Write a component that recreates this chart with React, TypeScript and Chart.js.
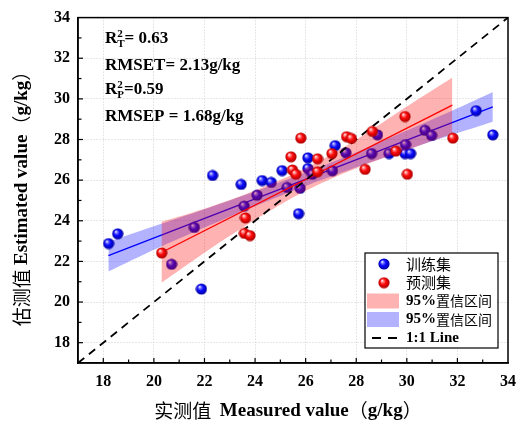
import React, { useEffect, useRef } from "react";
import { Chart, registerables } from "chart.js";

Chart.register(...registerables);

// ---- data ----
const trainX = [18.21, 18.57, 20.7, 21.88, 22.32, 21.6, 23.45, 23.57, 24.08, 24.28, 24.64, 25.07, 25.27, 25.72, 25.78, 26.09, 26.09, 26.27, 27.17, 27.06, 27.59, 28.84, 28.61, 29.3, 29.95, 29.93, 30.15, 30.72, 30.98, 32.74, 33.4];
const trainY = [22.88, 23.36, 21.86, 20.64, 26.23, 23.67, 25.79, 24.72, 25.26, 25.98, 25.89, 26.47, 25.64, 24.35, 25.6, 27.1, 26.57, 26.29, 27.7, 26.46, 27.35, 28.23, 27.31, 27.31, 27.75, 27.31, 27.31, 28.45, 28.2, 29.42, 28.23];

const testX = [20.31, 23.62, 23.58, 23.8, 25.42, 25.48, 25.61, 25.81, 26.47, 26.47, 27.04, 27.62, 27.81, 28.64, 28.35, 29.56, 30.02, 29.93, 31.82];
const testY = [22.42, 24.14, 23.38, 23.27, 27.15, 26.5, 26.29, 28.07, 27.05, 26.41, 27.31, 28.14, 28.05, 28.4, 26.53, 27.43, 26.29, 29.13, 28.07];

const trainFitX = [18.2, 33.4];
const trainFitY = [22.29, 29.61];
const testFitX = [20.3, 31.8];
const testFitY = [22.44, 29.69];

const trainBandX = [18.2, 20, 22, 24, 26, 28, 30, 32, 33.4];
const trainBandUpper = [22.97, 23.73, 24.57, 25.44, 26.37, 27.37, 28.44, 29.54, 30.34];
const trainBandLower = [21.5, 22.57, 23.67, 24.72, 25.71, 26.63, 27.5, 28.32, 28.88];

const testBandX = [20.3, 22, 24, 26, 28, 30, 31.8];
const testBandUpper = [23.95, 24.59, 25.49, 26.58, 27.99, 29.62, 31.05];
const testBandLower = [20.95, 22.43, 24.05, 25.48, 26.59, 27.48, 28.3];

const identityX = [17, 34];
const identityY = [17, 34];

const xTickValues = [18, 20, 22, 24, 26, 28, 30, 32, 34];
const yTickValues = [18, 20, 22, 24, 26, 28, 30, 32, 34];

const statR2T = "0.63";
const statRMSET = "2.13g/kg";
const statR2P = "0.59";
const statRMSEP = "1.68g/kg";

const legendLabels = ["训练集", "预测集", "95%置信区间", "95%置信区间", "1:1 Line"];

const SERIF = "'Liberation Serif', 'DejaVu Serif', serif";
const CJK = "'Noto Sans CJK SC', 'Noto Sans CJK JP', sans-serif";

const RED_BAND = "rgba(255, 0, 0, 0.3)";
const BLUE_BAND = "rgba(0, 0, 255, 0.3)";

function makeBall(base: string, light: string, dark: string) {
  const s = 12;
  const c = document.createElement("canvas");
  c.width = s;
  c.height = s;
  const g = c.getContext("2d")!;
  const r = 5.6;
  const cx = 6;
  const cy = 6;
  const grad = g.createRadialGradient(cx - 2, cy - 2.3, 0.2, cx, cy, r);
  grad.addColorStop(0, "#ffffff");
  grad.addColorStop(0.2, light);
  grad.addColorStop(0.5, base);
  grad.addColorStop(1, dark);
  g.fillStyle = grad;
  g.beginPath();
  g.arc(cx, cy, r, 0, Math.PI * 2);
  g.fill();
  return c;
}

type Run = { text: string; font: string };

function runsWidth(ctx: CanvasRenderingContext2D, runs: Run[]) {
  let w = 0;
  for (const r of runs) {
    ctx.font = r.font;
    w += ctx.measureText(r.text).width;
  }
  return w;
}

function drawRuns(ctx: CanvasRenderingContext2D, runs: Run[], x: number, y: number) {
  let cx = x;
  for (const r of runs) {
    ctx.font = r.font;
    ctx.fillText(r.text, cx, y);
    cx += ctx.measureText(r.text).width;
  }
}

export default function App() {
  const ref = useRef<HTMLCanvasElement | null>(null);

  useEffect(() => {
    if (!ref.current) return;
    const blueBall = makeBall("#0a0aff", "#8080ff", "#0000a0");
    const redBall = makeBall("#ff0a0a", "#ff8a8a", "#a80000");

    const pts = (xs: number[], ys: number[]) => xs.map((x, i) => ({ x, y: ys[i] }));

    const decor = {
      id: "decor",
      afterDraw(chart: any) {
        const ctx: CanvasRenderingContext2D = chart.ctx;
        const { left, right, top, bottom } = chart.chartArea;
        const xs = chart.scales.x;
        const ys = chart.scales.y;
        ctx.save();
        // ticks (inward)
        ctx.strokeStyle = "#000";
        ctx.lineWidth = 1.2;
        for (let v = 18; v <= 33; v++) {
          const len = v % 2 === 0 ? 5 : 3.5;
          const px = xs.getPixelForValue(v);
          ctx.beginPath();
          ctx.moveTo(px, bottom);
          ctx.lineTo(px, bottom - len);
          ctx.stroke();
          const py = ys.getPixelForValue(v);
          ctx.beginPath();
          ctx.moveTo(left, py);
          ctx.lineTo(left + len, py);
          ctx.stroke();
        }
        // frame
        ctx.lineWidth = 1.5;
        ctx.strokeRect(left, top, right - left, bottom - top);

        // stats text
        ctx.fillStyle = "#000";
        ctx.textBaseline = "alphabetic";
        ctx.textAlign = "left";
        const big = `bold 17px ${SERIF}`;
        const small = `bold 11px ${SERIF}`;
        const tx = left + 27;
        const drawR2 = (sub: string, rest: string, base: number) => {
          ctx.font = big;
          ctx.fillText("R", tx, base);
          let x = tx + ctx.measureText("R").width;
          ctx.font = small;
          ctx.fillText("2", x, base - 6);
          ctx.fillText(sub, x, base + 4);
          x += Math.max(ctx.measureText("2").width, ctx.measureText(sub).width);
          ctx.font = big;
          ctx.fillText(rest, x, base);
        };
        drawR2("T", "= " + statR2T, 43);
        ctx.font = big;
        ctx.fillText("RMSET= " + statRMSET, tx, 70);
        drawR2("P", "=" + statR2P, 94);
        ctx.font = big;
        ctx.fillText("RMSEP = " + statRMSEP, tx, 121);

        // legend
        const lx = 365, ly = 253, lw = 133, lh = 95;
        ctx.fillStyle = "#fff";
        ctx.fillRect(lx, ly, lw, lh);
        ctx.strokeStyle = "#000";
        ctx.lineWidth = 1.2;
        ctx.strokeRect(lx, ly, lw, lh);
        const rows = [264, 282.7, 301, 319.5, 338];
        ctx.drawImage(blueBall, 384 - 6, rows[0] - 6);
        ctx.drawImage(redBall, 384 - 6, rows[1] - 6);
        ctx.fillStyle = RED_BAND;
        ctx.fillRect(367, rows[2] - 7.5, 32, 15);
        ctx.fillStyle = BLUE_BAND;
        ctx.fillRect(367, rows[3] - 7.5, 32, 15);
        ctx.strokeStyle = "#000";
        ctx.lineWidth = 2;
        ctx.setLineDash([9, 7]);
        ctx.beginPath();
        ctx.moveTo(372, rows[4]);
        ctx.lineTo(397, rows[4]);
        ctx.stroke();
        ctx.setLineDash([]);
        ctx.fillStyle = "#000";
        ctx.textBaseline = "middle";
        const lt = 406;
        const cjk15 = `15px ${CJK}`;
        const cjk14 = `14px ${CJK}`;
        const ser15 = `bold 15px ${SERIF}`;
        drawRuns(ctx, [{ text: legendLabels[0], font: cjk15 }], lt, rows[0]);
        drawRuns(ctx, [{ text: legendLabels[1], font: cjk15 }], lt, rows[1]);
        for (const i of [2, 3]) {
          const s = legendLabels[i];
          drawRuns(ctx, [
            { text: s.slice(0, 3), font: ser15 },
            { text: s.slice(3), font: cjk14 },
          ], lt, rows[i]);
        }
        drawRuns(ctx, [{ text: legendLabels[4], font: ser15 }], lt, rows[4]);

        // axis titles
        const cj = `19px ${CJK}`;
        const se = `bold 19px ${SERIF}`;
        const xRuns: Run[] = [
          { text: "实测值  ", font: cj },
          { text: "Measured value", font: se },
          { text: "（", font: cj },
          { text: "g/kg", font: se },
          { text: "）", font: cj },
        ];
        const yRuns: Run[] = [
          { text: "估测值 ", font: cj },
          { text: "Estimated value", font: se },
          { text: "（", font: cj },
          { text: "g/kg", font: se },
          { text: "）", font: cj },
        ];
        ctx.textBaseline = "middle";
        const xw = runsWidth(ctx, xRuns);
        drawRuns(ctx, xRuns, 288 - xw / 2, 411);
        ctx.translate(22, 194);
        ctx.rotate(-Math.PI / 2);
        const yw = runsWidth(ctx, yRuns);
        drawRuns(ctx, yRuns, -yw / 2, 0);
        ctx.restore();
      },
    };

    const chart = new Chart(ref.current, {
      type: "line",
      data: {
        datasets: [
          {
            label: "预测集",
            data: pts(testX, testY),
            showLine: false,
            pointStyle: redBall as any,
            pointRadius: 6,
            order: 0,
          },
          {
            label: "1:1 Line",
            data: pts(identityX, identityY),
            borderColor: "#000",
            borderWidth: 1.8,
            borderDash: [8, 6],
            pointRadius: 0,
            fill: false,
            order: 1,
          },
          {
            label: "test fit",
            data: pts(testFitX, testFitY),
            borderColor: "#ff0000",
            borderWidth: 1.3,
            pointRadius: 0,
            fill: false,
            order: 2,
          },
          {
            label: "test band lower",
            data: pts(testBandX, testBandLower),
            borderColor: "transparent",
            borderWidth: 0,
            pointRadius: 0,
            fill: false,
            tension: 0.3,
            order: 3,
          },
          {
            label: "95%置信区间",
            data: pts(testBandX, testBandUpper),
            borderColor: "transparent",
            borderWidth: 0,
            pointRadius: 0,
            backgroundColor: RED_BAND,
            fill: 3,
            tension: 0.3,
            order: 3,
          },
          {
            label: "训练集",
            data: pts(trainX, trainY),
            showLine: false,
            pointStyle: blueBall as any,
            pointRadius: 6,
            order: 5,
          },
          {
            label: "train fit",
            data: pts(trainFitX, trainFitY),
            borderColor: "#0000ff",
            borderWidth: 1.3,
            pointRadius: 0,
            fill: false,
            order: 6,
          },
          {
            label: "train band lower",
            data: pts(trainBandX, trainBandLower),
            borderColor: "transparent",
            borderWidth: 0,
            pointRadius: 0,
            fill: false,
            tension: 0.3,
            order: 7,
          },
          {
            label: "95%置信区间 ",
            data: pts(trainBandX, trainBandUpper),
            borderColor: "transparent",
            borderWidth: 0,
            pointRadius: 0,
            backgroundColor: BLUE_BAND,
            fill: 7,
            tension: 0.3,
            order: 7,
          },
        ],
      },
      options: {
        animation: false,
        responsive: false,
        devicePixelRatio: 1,
        layout: { padding: { left: 0, top: 13, right: 16, bottom: 0 } },
        plugins: {
          legend: { display: false },
          tooltip: { enabled: false },
          filler: { propagate: false },
        },
        events: [],
        scales: {
          x: {
            type: "linear",
            min: 17,
            max: 34,
            afterBuildTicks: (s: any) => {
              s.ticks = xTickValues.map((v) => ({ value: v }));
            },
            afterFit: (s: any) => {
              s.height = 64;
            },
            grid: { color: "#cfcfcf", lineWidth: 1, drawTicks: false },
            border: { display: true, color: "#000", width: 1.5, dash: [1, 2] },
            ticks: {
              padding: 9,
              color: "#000",
              font: { family: SERIF, size: 16, weight: "bold" },
              maxRotation: 0,
            },
          },
          y: {
            type: "linear",
            min: 17,
            max: 34,
            afterBuildTicks: (s: any) => {
              s.ticks = yTickValues.map((v) => ({ value: v }));
            },
            afterFit: (s: any) => {
              s.width = 78;
            },
            grid: { color: "#cfcfcf", lineWidth: 1, drawTicks: false },
            border: { display: true, color: "#000", width: 1.5, dash: [1, 2] },
            ticks: {
              padding: 8,
              color: "#000",
              font: { family: SERIF, size: 16, weight: "bold" },
            },
          },
        },
      } as any,
      plugins: [decor as any],
    });
    return () => chart.destroy();
  }, []);

  return (
    <div style={{ position: "absolute", left: 0, top: 0, width: 525, height: 427, background: "#fff" }}>
      <canvas ref={ref} width={525} height={427} style={{ display: "block" }} />
    </div>
  );
}
